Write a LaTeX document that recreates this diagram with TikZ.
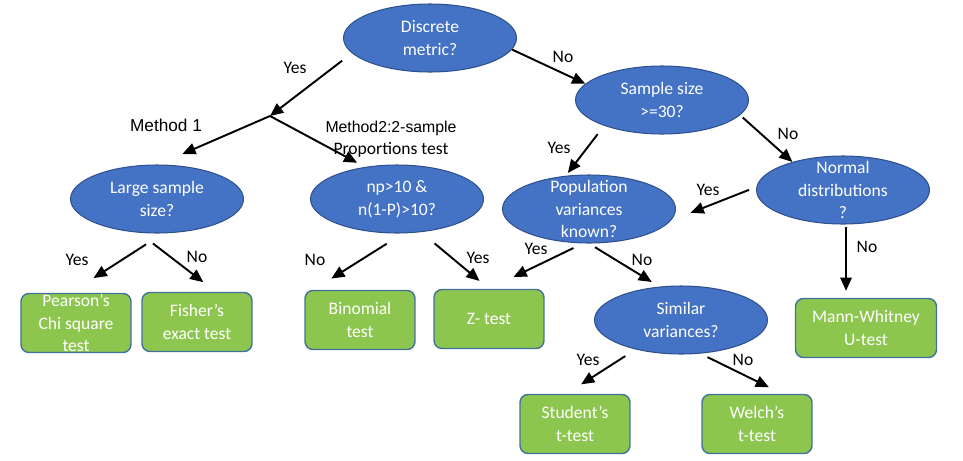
\documentclass[tikz,border=0pt]{standalone}
\usepackage{fontspec}
\setmainfont{Carlito}
\newfontfamily\arialfont{Liberation Sans}
\usepackage{tikz}
\usetikzlibrary{shapes.geometric,arrows.meta}
\definecolor{qblue}{HTML}{4472C4}
\definecolor{qline}{HTML}{2F528F}
\definecolor{tgreen}{HTML}{8DC64E}
\definecolor{tline}{HTML}{41719C}

\begin{document}
\begin{tikzpicture}[x=0.02cm,y=-0.02cm,
	question/.style={shape=ellipse,draw=qline,line width=0.6pt,fill=qblue,text=white,align=center,minimum width=3.46cm,minimum height=1.36cm,inner xsep=0pt,inner ysep=-12pt,font=\fontsize{10}{13}\selectfont},
	test/.style={shape=rectangle,rounded corners=4.5pt,draw=tline,line width=0.8pt,fill=tgreen,text=white,align=center,minimum width=2.2cm,minimum height=1.18cm,inner sep=0pt,font=\fontsize{10}{13}\selectfont},
	answer/.style={align=center,font=\fontsize{10}{12.5}\selectfont},
	flow/.style={-{Triangle[length=7.5pt,width=6.5pt]},line width=1.1pt}]
	
	\useasboundingbox (0,0) rectangle (963,460);
	
	\node[question] (dm) at (430,38)     {Discrete\\metric?};
	\node[question] (ss) at (662,100)     {Sample size\\>=30?};
	\node[question] (ls) at (157,199)     {Large sample\\size?};
	\node[question] (np) at (397,199)     {np>10 \&\\n(1-P)>10?};
	\node[question] (pv) at (589,209)     {Population\\variances\\known?};
	\node[question] (nd) at (843,190)     {Normal\\distributions\\?};
	\node[question] (sv) at (681,320)     {Similar\\variances?};
	
	\node[test] (pe) at (76,323)     {Pearson's\\Chi square\\test};
	\node[test] (fi) at (197,322)     {Fisher's\\exact test};
	\node[test] (bi) at (360,320)     {Binomial\\test};
	\node[test] (zt) at (489,319)     {Z- test};
	\node[test,minimum width=2.82cm] (mw) at (866,328)     {Mann-Whitney\\U-test};
	\node[test] (st) at (575,424)     {Student's\\t-test};
	\node[test] (wl) at (757,424)     {Welch's\\t-test};
	
	\coordinate (split) at (270,116);
	
	\path[flow] (dm.191) edge[shorten <=7pt] (split);
	\path[flow] (split) edge[shorten >=15pt] (ls.88);
	\path[flow] (split) edge[shorten >=5pt] (np.135);
	\path[flow] (dm.-8) edge (ss.168);
	\path[flow] (ss.204) edge[shorten <=6pt,shorten >=2pt] (pv.125);
	\path[flow] (ss.-11) edge[shorten <=2pt] (nd.151);
	\path[flow] (nd.178) edge[shorten <=4.5pt,shorten >=12pt] (pv.-8);
	\path[flow] (nd.-85) edge[shorten <=1.5pt,shorten >=4pt] (nd.-85 |- mw.north);
	\path[flow] (ls.-80) edge[shorten <=11.5pt,shorten >=15.5pt] (pe.100);
	\path[flow] (ls.242) edge[shorten <=10pt,shorten >=9pt] (fi.58);
	\path[flow] (np.-80) edge[shorten <=11pt,shorten >=12pt] (bi.147);
	\path[flow] (np.-54) edge[shorten <=10pt,shorten >=7pt] (zt.north);
	\path[flow] (pv.260) edge[shorten <=6pt,shorten >=15.5pt] (zt.north);
	\path[flow] (pv.-90) edge[shorten <=4pt,shorten >=5pt] (sv.123);
	\path[flow] (sv.213) edge[shorten <=7pt,shorten >=10pt] (st.106);
	\path[flow] (sv.-60) edge[shorten <=4.5pt,shorten >=8.5pt] (wl.50);
	
	\node[answer] (y1) at (295,68)     {Yes};
	\node[answer] (n1) at (563,57)     {No};
	\node[answer,font=\arialfont\fontsize{9.8}{12}\selectfont] (m1) at (166,125)     {Method 1};
	\node[answer] (m2) at (391,139)     {{\arialfont\fontsize{9}{12}\selectfont Method2:2-sample}\\Proportions test};
	\node[answer] (y2) at (559,148)     {Yes};
	\node[answer] (n2) at (788,134)     {No};
	\node[answer] (y3) at (708,190)     {Yes};
	\node[answer] (n3) at (867,247)     {No};
	\node[answer] (y4) at (536,249)     {Yes};
	\node[answer] (n4) at (642,260)     {No};
	\node[answer] (y5) at (588,360)     {Yes};
	\node[answer] (n5) at (743,360)     {No};
	\node[answer] (y6) at (77,260)     {Yes};
	\node[answer] (n6) at (197,257)     {No};
	\node[answer] (n7) at (315,260)     {No};
	\node[answer] (y7) at (478,258)     {Yes};
	\end{tikzpicture}
\end{document}
